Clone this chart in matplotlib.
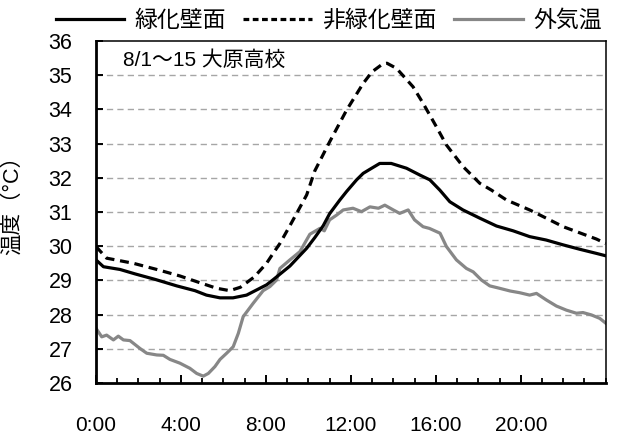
import matplotlib
matplotlib.use("Agg")
import matplotlib.pyplot as plt
from matplotlib.lines import Line2D
from matplotlib.ticker import MultipleLocator

plt.rcParams['font.family'] = ['Liberation Sans', 'Noto Sans CJK JP', 'DejaVu Sans']

# ---- data (hours, deg C) ----
series_names = ["緑化壁面", "非緑化壁面", "外気温"]

green_h = [0, 0.35, 1.13, 1.84, 2.78, 3.8, 4.66, 5.2, 5.84, 6.45, 7.09, 7.56, 8.03,
           8.34, 9.13, 9.92, 10.3, 10.7, 11.0, 11.48, 11.8, 12.27, 12.58, 12.9, 13.36,
           13.9, 14.62, 15.25, 15.72, 16.19, 16.66, 17.28, 18.07, 18.86, 19.64, 20.42,
           21.2, 21.99, 22.78, 23.56, 24]
green_t = [29.60, 29.40, 29.32, 29.19, 29.03, 28.84, 28.70, 28.57, 28.49, 28.49, 28.57,
           28.72, 28.87, 29.02, 29.42, 29.94, 30.25, 30.6, 30.95, 31.35, 31.6, 31.94,
           32.13, 32.25, 32.42, 32.42, 32.28, 32.08, 31.94, 31.64, 31.30, 31.06, 30.82,
           30.59, 30.45, 30.28, 30.18, 30.04, 29.91, 29.79, 29.72]

bare_h = [0, 0.5, 1.76, 2.86, 3.95, 4.9, 5.68, 6.3, 6.8, 7.45, 8.03, 8.34, 8.66, 9.13,
          9.44, 9.92, 10.3, 11.0, 11.8, 12.58, 13.0, 13.5, 13.7, 14.15, 14.93, 15.4,
          16.03, 16.5, 17.28, 18.07, 18.62, 19.33, 20.42, 21.2, 22.0, 22.78, 23.56, 24]
bare_t = [29.99, 29.65, 29.50, 29.32, 29.13, 28.93, 28.77, 28.70, 28.80, 29.10, 29.50,
          29.79, 30.08, 30.60, 30.95, 31.50, 32.20, 33.05, 33.98, 34.76, 35.10, 35.33,
          35.35, 35.20, 34.66, 34.18, 33.49, 32.96, 32.33, 31.84, 31.64, 31.35, 31.06,
          30.82, 30.57, 30.39, 30.21, 30.08]

air_h = [0, 0.27, 0.5, 0.82, 1.05, 1.29, 1.6, 2.07, 2.39, 2.86, 3.17, 3.48, 3.95, 4.42,
         4.74, 5.05, 5.29, 5.6, 5.84, 6.15, 6.46, 6.7, 6.93, 7.4, 7.87, 8.19, 8.5, 8.66,
         9.13, 9.6, 10.07, 10.54, 10.75, 11.0, 11.33, 11.64, 12.1, 12.5, 12.9, 13.3,
         13.6, 14.0, 14.3, 14.7, 15.0, 15.4, 15.7, 16.2, 16.5, 16.97, 17.44, 17.76,
         18.15, 18.54, 19.0, 19.5, 19.95, 20.42, 20.74, 21.2, 21.68, 22.15, 22.62,
         22.93, 23.33, 23.72, 24]
air_t = [27.60, 27.35, 27.40, 27.26, 27.37, 27.26, 27.24, 27.01, 26.87, 26.82, 26.81,
         26.69, 26.58, 26.43, 26.28, 26.20, 26.28, 26.48, 26.69, 26.87, 27.06, 27.45,
         27.94, 28.33, 28.70, 28.82, 29.01, 29.35, 29.60, 29.84, 30.35, 30.52, 30.45,
         30.77, 30.91, 31.06, 31.11, 31.01, 31.15, 31.11, 31.20, 31.06, 30.96, 31.06,
         30.77, 30.57, 30.52, 30.38, 29.99, 29.60, 29.35, 29.25, 29.01, 28.84, 28.77,
         28.69, 28.64, 28.57, 28.62, 28.43, 28.25, 28.13, 28.04, 28.06, 27.99, 27.89,
         27.75]

x_major = [0, 4, 8, 12, 16, 20]
x_labels = ["0:00", "4:00", "8:00", "12:00", "16:00", "20:00"]
y_ticks = list(range(26, 37))
annotation = "8/1～15 大原高校"
y_label = "温度（°C）"

LW = 2.3

# ---- figure ----
fig = plt.figure(figsize=(6.18, 4.37), dpi=100)
ax = fig.add_axes([96/618, 1 - 383/437, (605.7 - 96)/618, (383 - 41)/437])

ax.plot(green_h, green_t, color='black', lw=LW, solid_joinstyle='round', zorder=3)
ax.plot(bare_h, bare_t, color='black', lw=LW, linestyle=(0, (2.8, 1.8)), zorder=3)
ax.plot(air_h, air_t, color='#878787', lw=LW, solid_joinstyle='round', zorder=2)

ax.set_xlim(0, 24)
ax.set_ylim(26, 36)
ax.set_xticks(x_major)
ax.set_xticklabels(x_labels)
ax.xaxis.set_minor_locator(MultipleLocator(1))
ax.set_yticks(y_ticks)

for v in y_ticks[1:-1]:
    ax.axhline(v, color='#a6a6a6', lw=1.0, linestyle=(0, (4.5, 3)), zorder=1)

ax.tick_params(axis='x', which='major', direction='in', length=5.5, width=1.4,
               pad=24, labelsize=15)
ax.tick_params(axis='x', which='minor', direction='in', length=3.5, width=1.3)
ax.tick_params(axis='y', which='major', direction='in', length=5, width=1.4,
               pad=17, labelsize=15.5)

for s in ['left', 'bottom']:
    ax.spines[s].set_linewidth(2.0)
for s in ['top', 'right']:
    ax.spines[s].set_linewidth(1.1)

ax.set_ylabel(y_label, fontsize=15.5)
ax.yaxis.set_label_coords(-0.143, 0.535)

ax.text(0.053, 0.944, annotation, transform=ax.transAxes, fontsize=15,
        ha='left', va='center')

handles = [Line2D([], [], color='black', lw=LW),
           Line2D([], [], color='black', lw=LW, linestyle=(0, (1.8, 1.1))),
           Line2D([], [], color='#878787', lw=LW)]
fig.legend(handles, series_names, loc='center', bbox_to_anchor=(0.532, 0.954),
           ncol=3, frameon=False, fontsize=16.5, handlelength=3.0,
           handletextpad=0.45, columnspacing=0.75, borderpad=0)

fig.savefig("out.png", dpi=100)
